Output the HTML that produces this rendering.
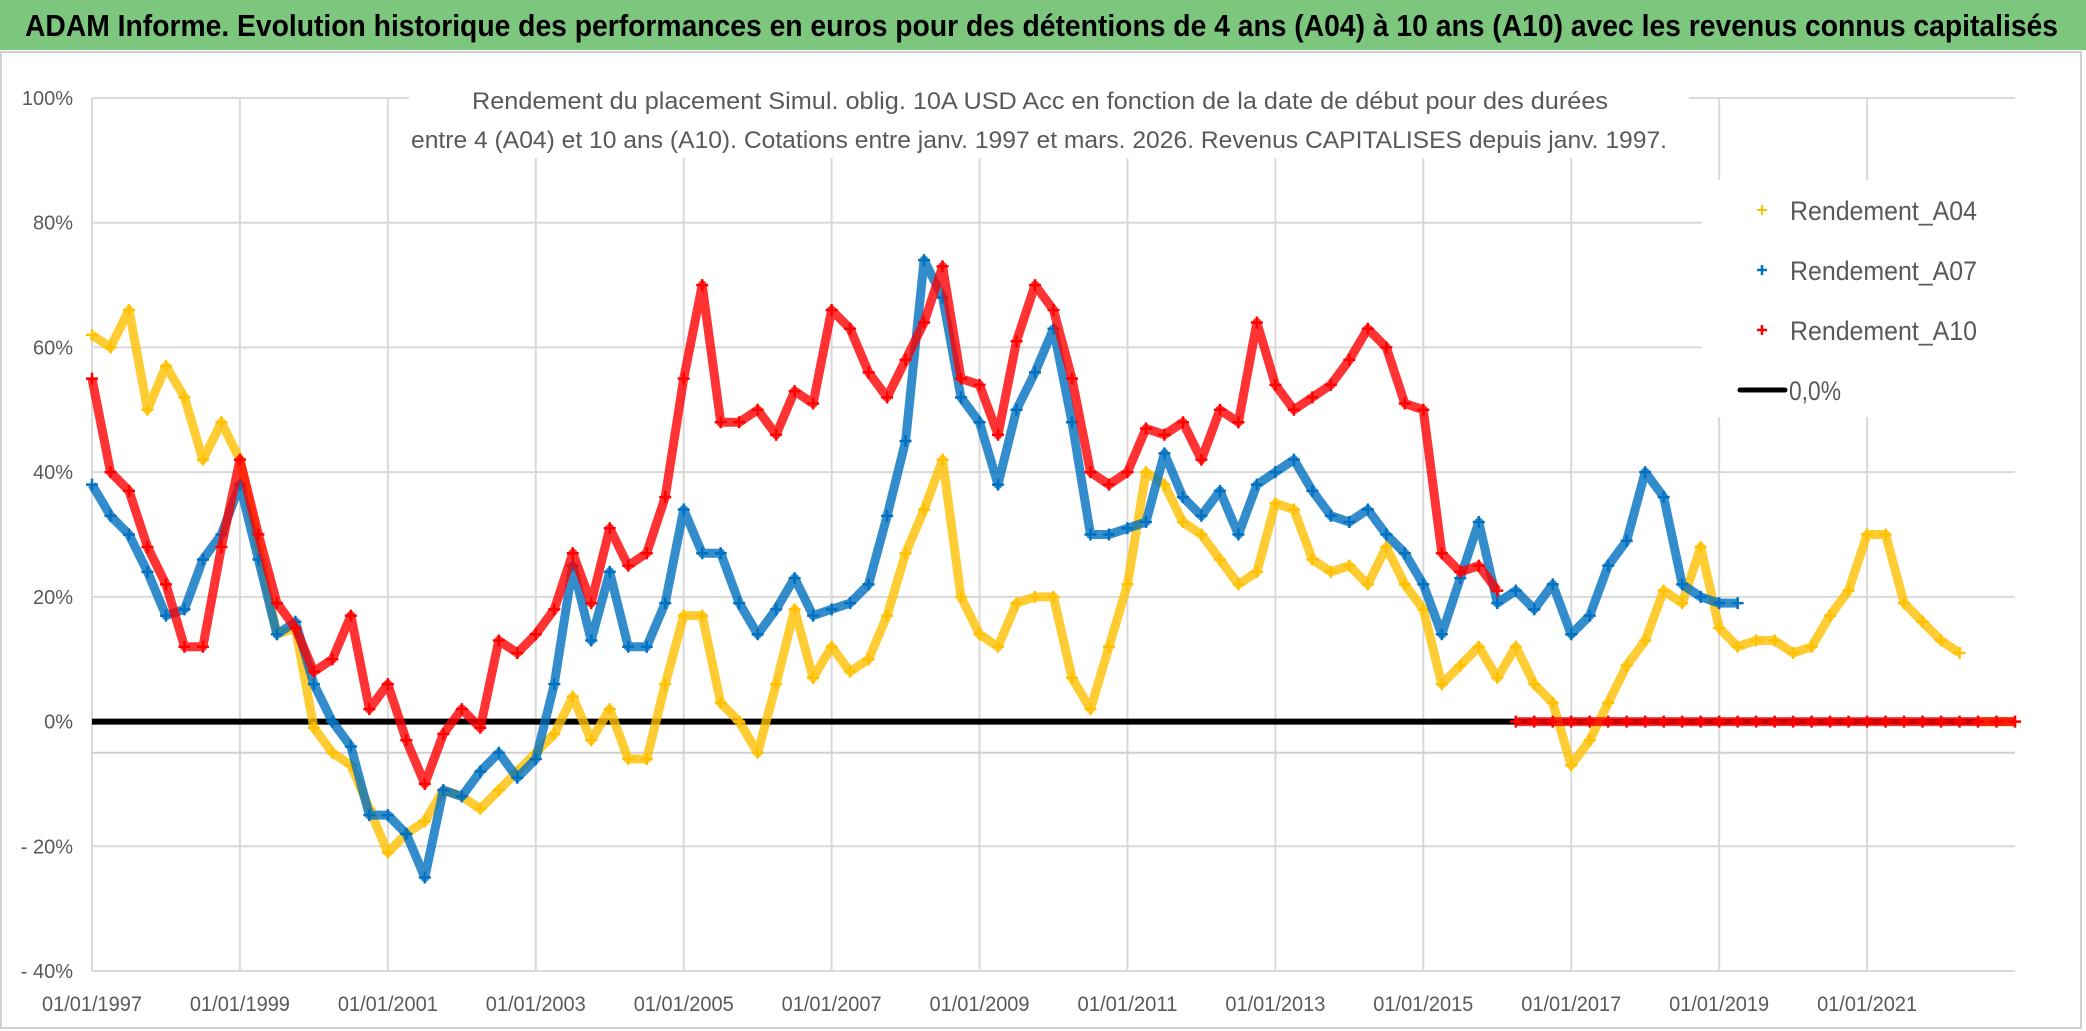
<!DOCTYPE html>
<html><head><meta charset="utf-8"><style>
html,body{margin:0;padding:0;background:#fff;}
svg{display:block;font-family:"Liberation Sans",sans-serif;}
</style></head><body>
<svg id="chart" width="2086" height="1031" viewBox="0 0 2086 1031" xmlns="http://www.w3.org/2000/svg">
<rect x="0" y="0" width="2086" height="1031" fill="#fff"/>
<rect x="1" y="52" width="2080" height="976" fill="#fff" stroke="#d0d0d0" stroke-width="2"/>
<rect x="0" y="0" width="2086" height="50" fill="#7dc67e"/>
<text x="25" y="36" font-size="31" font-weight="bold" fill="#000" textLength="2033" lengthAdjust="spacingAndGlyphs">ADAM Informe. Evolution historique des performances en euros pour des détentions de 4 ans (A04) à 10 ans (A10) avec les revenus connus capitalisés</text>
<g id="grid"></g>
<g id="axes"></g>
<g id="series"></g>
<rect x="409" y="68" width="1280" height="90" fill="#fff"/>
<text x="1040" y="109" font-size="24" fill="#595959" text-anchor="middle" textLength="1136" lengthAdjust="spacingAndGlyphs">Rendement du placement Simul. oblig. 10A USD Acc en fonction de la date de début pour des durées</text>
<text x="1039" y="148" font-size="24" fill="#595959" text-anchor="middle" textLength="1256" lengthAdjust="spacingAndGlyphs">entre 4 (A04) et 10 ans (A10). Cotations entre janv. 1997 et mars. 2026. Revenus CAPITALISES depuis janv. 1997.</text>
<g>
<rect x="1702" y="180" width="313" height="237" fill="#fff"/>
<g>
<path d="M1757 210h10M1762 205v10" stroke="#ffc000" stroke-width="2"/>
<text x="1790" y="220" font-size="27" fill="#595959" textLength="187" lengthAdjust="spacingAndGlyphs">Rendement_A04</text></g>
<g>
<path d="M1757 270h10M1762 265v10" stroke="#0070c0" stroke-width="2.5"/>
<text x="1790" y="280" font-size="27" fill="#595959" textLength="187" lengthAdjust="spacingAndGlyphs">Rendement_A07</text></g>
<g>
<path d="M1757 330h10M1762 325v10" stroke="#ff0000" stroke-width="2.5"/>
<text x="1790" y="340" font-size="27" fill="#595959" textLength="187" lengthAdjust="spacingAndGlyphs">Rendement_A10</text></g>
<g>
<line x1="1740" y1="390" x2="1785" y2="390" stroke="#000" stroke-width="5" stroke-linecap="round"/>
<text x="1789" y="400" font-size="27" fill="#595959" textLength="52" lengthAdjust="spacingAndGlyphs">0,0%</text></g>
</g>
</svg>
<script>
const yTickValues = [100, 80, 60, 40, 20, 0, -20, -40];
const yTickLabels = ["100%", "80%", "60%", "40%", "20%", "0%", "- 20%", "- 40%"];
const xTickYears = [1997, 1999, 2001, 2003, 2005, 2007, 2009, 2011, 2013, 2015, 2017, 2019, 2021];
const xTickLabels = ["01/01/1997","01/01/1999","01/01/2001","01/01/2003","01/01/2005","01/01/2007","01/01/2009","01/01/2011","01/01/2013","01/01/2015","01/01/2017","01/01/2019","01/01/2021"];
const startYear = 1997;
const stepYears = 0.25;
// quarterly returns (%) starting 01/1997
const a04Values = [62,60,66,50,57,52,42,48,42,28,14,15,-1,-5,-7,-14,-21,-18,-16,-11,-12,-14,-11,-8,-5,-2,4,-3,
 2,-6,-6,6,17,17,3,0,-5,6,18,7,12,8,10,17,27,34,42,20,14,12,19,20,20,7,
 2,12,22,40,38,32,30,26,22,24,35,34,26,24,25,22,28,22,18,6,9,12,7,12,6,3,
 -7,-3,3,9,13,21,19,28,15,12,13,13,11,12,17,21,30,30,19,16,13,11,0,0,0];
const a07Values = [38,33,30,24,17,18,26,30,38,26,14,16,6,0,-4,-15,-15,-18,-25,-11,-12,-8,-5,-9,-6,6,25,13,
 24,12,12,19,34,27,27,19,14,18,23,17,18,19,22,33,45,74,68,52,48,38,50,56,63,48,
 30,30,31,32,43,36,33,37,30,38,40,42,37,33,32,34,30,27,22,14,23,32,19,21,18,22,
 14,17,25,29,40,36,22,20,19,19];
const a10Values = [55,40,37,28,22,12,12,28,42,30,19,15,8,10,17,2,6,-3,-10,-2,2,-1,13,11,14,18,27,19,
 31,25,27,36,55,70,48,48,50,46,53,51,66,63,56,52,58,64,73,55,54,46,61,70,66,55,
 40,38,40,47,46,48,42,50,48,64,54,50,52,54,58,63,60,51,50,27,24,25,21,
 0,0,0,0,0,0,0,0,0,0,0,0,0,0,0,0,0,0,0,0,0,0,0,0,0,0,0,0];
const zeroLineValue = 0;

const X0 = 92, X1 = 2015, Y0 = 971, Y1 = 98;
const xMin = 1997, xMax = 2023, yMin = -40, yMax = 100;
const xs = y => X0 + (y - xMin) / (xMax - xMin) * (X1 - X0);
const ys = v => Y0 - (v - yMin) / (yMax - yMin) * (Y0 - Y1);
const NS = "http://www.w3.org/2000/svg";
function mk(tag, attrs, parent) {
  const e = document.createElementNS(NS, tag);
  for (const k in attrs) e.setAttribute(k, attrs[k]);
  parent.appendChild(e);
  return e;
}
const grid = document.getElementById('grid');
const axes = document.getElementById('axes');
const series = document.getElementById('series');

yTickValues.forEach((v, i) => {
  const l = mk('line', {x1: X0, x2: X1, y1: ys(v), y2: ys(v), stroke: '#d9d9d9', 'stroke-width': 2}, grid);
  
  
  const t = mk('text', {x: 73, y: ys(v) + 7, 'font-size': 20, fill: '#595959', 'text-anchor': 'end'}, axes);
  t.textContent = yTickLabels[i];
  
  
});
xTickYears.forEach((yr, i) => {
  const l = mk('line', {x1: xs(yr), x2: xs(yr), y1: Y1, y2: Y0, stroke: '#d9d9d9', 'stroke-width': 2}, grid);
  
  
  const t = mk('text', {x: xs(yr), y: 1011, 'font-size': 21, fill: '#595959', 'text-anchor': 'middle', textLength: 100, lengthAdjust: 'spacingAndGlyphs'}, axes);
  t.textContent = xTickLabels[i];
  
  
});
const crossLine = mk('line', {x1: X0, x2: X1, y1: ys(-5), y2: ys(-5), stroke: '#d0d0d0', 'stroke-width': 2}, grid);



const zl = mk('line', {x1: X0, x2: X1, y1: ys(zeroLineValue), y2: ys(zeroLineValue), stroke: '#000', 'stroke-width': 6}, series);



function drawSeries(vals, color, name) {
  const g = mk('g', {}, series);
  
  
  // start index of the trailing run of zero values (unavailable returns)
  let tail = vals.length;
  while (tail > 0 && vals[tail - 1] === 0) tail--;
  let d = '';
  vals.forEach((v, i) => {
    const x = xs(startYear + i * stepYears).toFixed(1), y = ys(v).toFixed(1);
    const brk = i === 0 || i === tail;
    d += (brk ? 'M' : 'L') + x + ' ' + y + ' ';
  });
  const pl = mk('path', {d: d, fill: 'none', stroke: color, 'stroke-width': 9, 'stroke-opacity': 0.8, 'stroke-linejoin': 'round'}, g);
  
  
  vals.forEach((v, i) => {
    const x = xs(startYear + i * stepYears), y = ys(v);
    const p = mk('path', {d: `M${x-6} ${y}h12M${x} ${y-6}v12`, stroke: color, 'stroke-width': 2.5}, g);
    
    
  });
}
drawSeries(a04Values, '#ffc000', 'series-a04');
drawSeries(a07Values, '#0070c0', 'series-a07');
drawSeries(a10Values, '#ff0000', 'series-a10');
</script>
</body></html>
